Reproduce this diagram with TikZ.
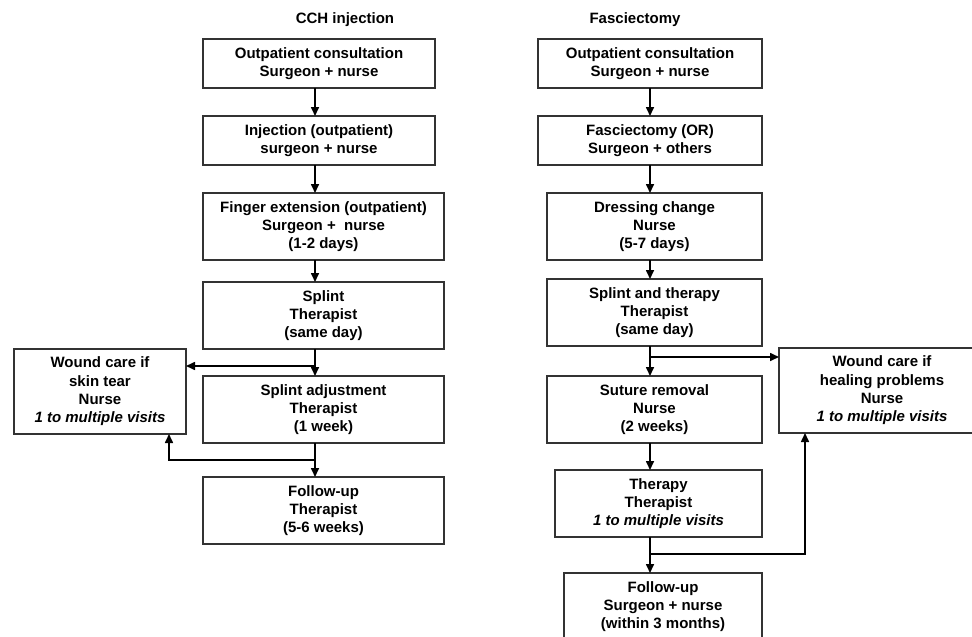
\documentclass[tikz,border=0pt]{standalone}
\usepackage{fontspec}
\setmainfont{Liberation Sans}
\usetikzlibrary{positioning, arrows.meta}
\tikzset{
    >={Triangle[length=9pt,width=8pt]},
    stepbox/.style={draw=black!80, line width=1.6pt, outer sep=0pt, align=center, inner sep=3pt,
        font=\bfseries\fontsize{15}{18.3}\selectfont},
    two/.style={minimum height=49pt},
    three/.style={minimum height=67pt},
    four/.style={minimum height=85pt},
    head/.style={font=\bfseries\fontsize{15}{18}\selectfont},
    link/.style={->, line width=1.6pt},
}

\begin{document}
\begin{tikzpicture}[x=1pt,y=-1pt]
\clip (0,0) rectangle (972,637);

\node[head] (cchtitle) at (345,20) {CCH injection};
\node[head] (fastitle) at (635,20) {Fasciectomy};

\coordinate (cchx) at (315,0);
\coordinate (fasx) at (650,0);

% CCH injection
\node[stepbox, two, minimum width=232pt, anchor=north west] (cch1) at (203,39) {Outpatient consultation\\Surgeon + nurse};
\node[stepbox, two, minimum width=232pt] (cch2) [below right=28pt and 0pt of cch1.south west] {Injection (outpatient)\\surgeon + nurse};
\node[stepbox, three, minimum width=241pt] (cch3) [below right=28pt and 0pt of cch2.south west] {Finger extension (outpatient)\\Surgeon +\ \ nurse\\(1-2 days)};
\node[stepbox, three, minimum width=241pt] (cch4) [below right=22pt and 0pt of cch3.south west] {Splint\\Therapist\\(same day)};
\node[stepbox, three, minimum width=241pt] (cch5) [below right=27pt and 0pt of cch4.south west] {Splint adjustment\\Therapist\\(1 week)};
\node[stepbox, three, minimum width=241pt] (cch6) [below right=34pt and 0pt of cch5.south west] {Follow-up\\Therapist\\(5-6 weeks)};
\node[stepbox, four, minimum width=172pt] (woundL) [below left=0pt and 17pt of cch4.south west] {Wound care if\\skin tear\\Nurse\\\textit{1 to multiple visits}};

% Fasciectomy
\node[stepbox, two, minimum width=224pt, anchor=north east] (fas1) at (762,39) {Outpatient consultation\\Surgeon + nurse};
\node[stepbox, two, minimum width=224pt] (fas2) [below left=28pt and 0pt of fas1.south east] {Fasciectomy (OR)\\Surgeon + others};
\node[stepbox, three, minimum width=215pt] (fas3) [below left=28pt and 0pt of fas2.south east] {Dressing change\\Nurse\\(5-7 days)};
\node[stepbox, three, minimum width=215pt] (fas4) [below left=19pt and 0pt of fas3.south east] {Splint and therapy\\Therapist\\(same day)};
\node[stepbox, three, minimum width=215pt] (fas5) [below left=30pt and 0pt of fas4.south east] {Suture removal\\Nurse\\(2 weeks)};
\node[stepbox, three, minimum width=207pt] (fas6) [below left=27pt and 0pt of fas5.south east] {Therapy\\Therapist\\\textit{1 to multiple visits}};
\node[stepbox, three, minimum width=198pt] (fas7) [below left=36pt and 0pt of fas6.south east] {Follow-up\\Surgeon + nurse\\(within 3 months)};
\node[stepbox, four, minimum width=206pt] (woundR) [below right=2pt and 17pt of fas4.south east] {Wound care if\\healing problems\\Nurse\\\textit{1 to multiple visits}};

% main flow
\foreach \a/\b in {cch1/cch2, cch2/cch3, cch3/cch4, cch4/cch5, cch5/cch6}
    \draw[link] (\a.south -| cchx) -- (\b.north -| cchx);
\foreach \a/\b in {fas1/fas2, fas2/fas3, fas3/fas4, fas4/fas5, fas5/fas6, fas6/fas7}
    \draw[link] (\a.south -| fasx) -- (\b.north -| fasx);

% wound care branches
\coordinate (splitL1) at (315,366);
\coordinate (splitL2) at (315,460);
\coordinate (backL) at (169,0);
\draw[link] (splitL1) -- (splitL1 -| woundL.east);
\draw[link] (splitL2) -| (backL |- woundL.south);

\coordinate (splitR1) at (650,357);
\coordinate (splitR2) at (650,554);
\coordinate (backR) at (805,0);
\draw[link] (splitR1) -- (splitR1 -| woundR.west);
\draw[link] (splitR2) -| (backR |- woundR.south);

\end{tikzpicture}
\end{document}
